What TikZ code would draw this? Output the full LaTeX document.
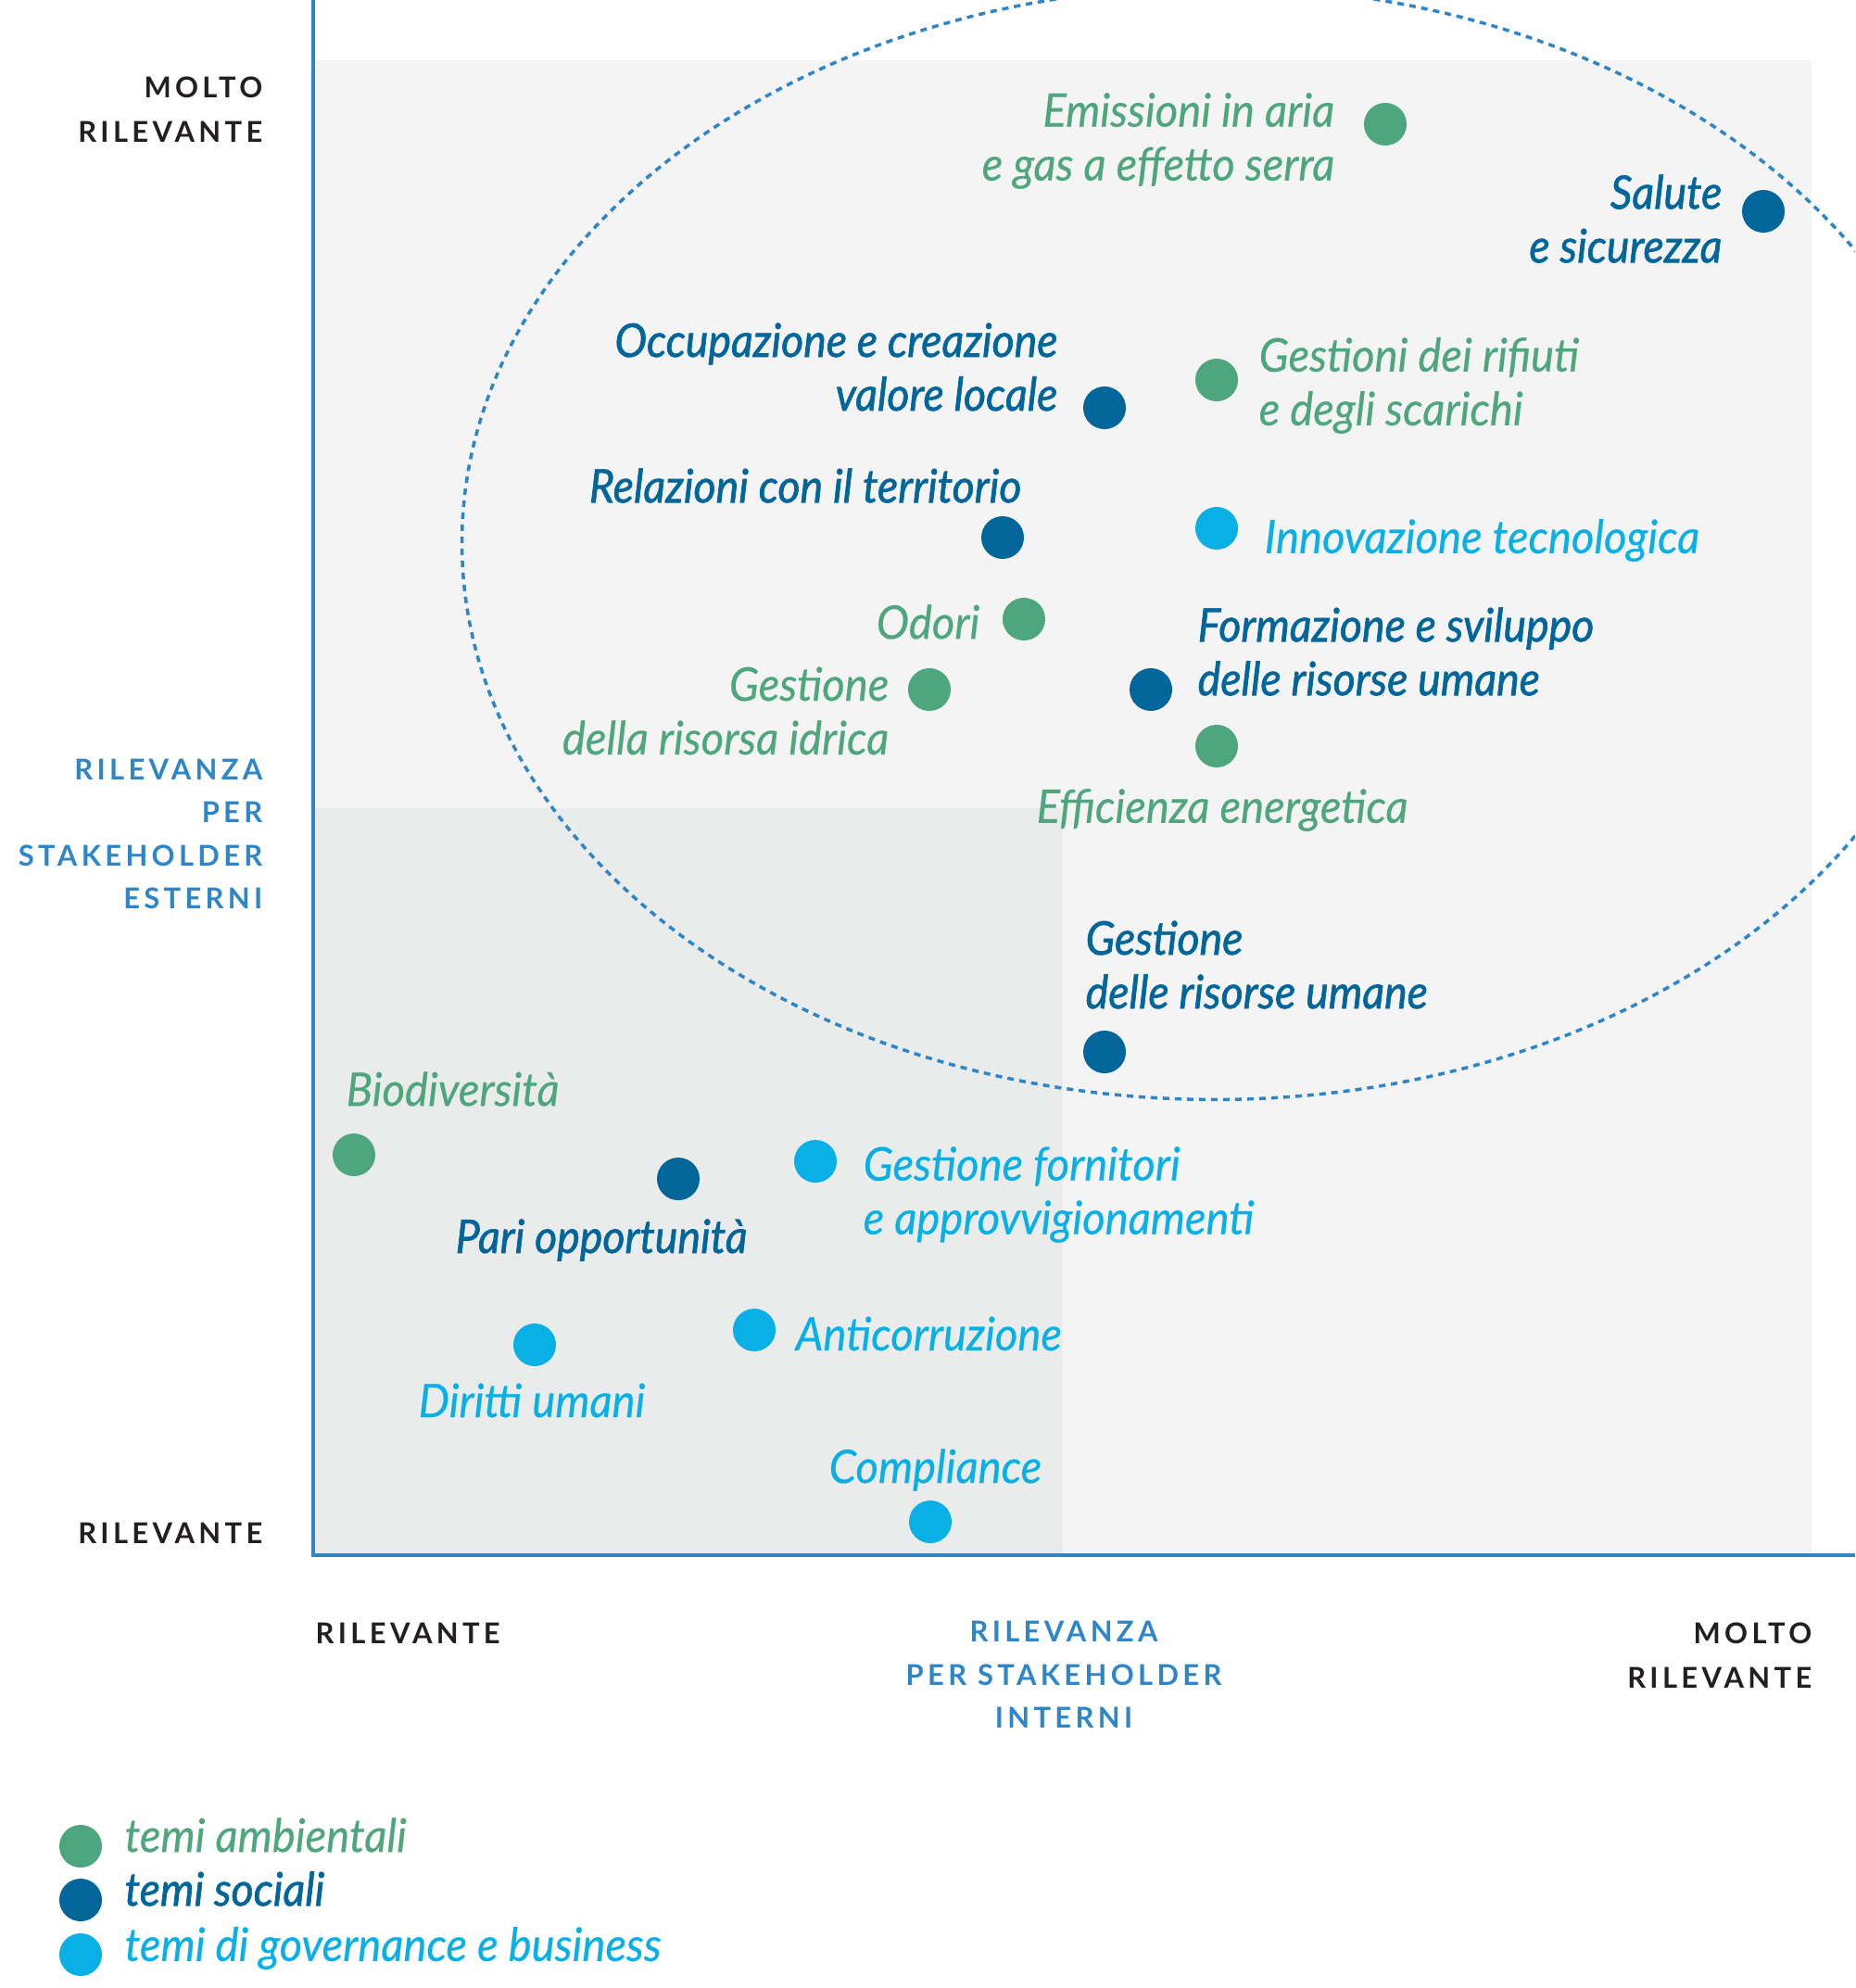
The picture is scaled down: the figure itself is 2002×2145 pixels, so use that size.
\documentclass[tikz,border=0pt]{standalone}
\usepackage{fontspec}
\setmainfont{Lato}
\newfontfamily\labelfont{Lato}[FakeStretch=0.945,FakeBold=0.4]
\newfontfamily\labelfontsb{Lato}[FakeStretch=0.93,FakeBold=1.3]
\newfontfamily\axisfont{Lato}[LetterSpace=14]

\definecolor{ambgreen}{HTML}{4EA67E}
\definecolor{socblue}{HTML}{02669A}
\definecolor{govblue}{HTML}{09B0E6}
\definecolor{axisblue}{HTML}{2E86C8}
\definecolor{axisdark}{HTML}{231F20}
\definecolor{bglight}{HTML}{F4F4F4}
\definecolor{bgdark}{HTML}{EAECEB}

\begin{document}
\begin{tikzpicture}[x=0.01cm, y=-0.01cm,
    dot/.style={circle, inner sep=0pt, minimum size=0.46cm},
    amb/.style={dot, fill=ambgreen},
    soc/.style={dot, fill=socblue},
    gov/.style={dot, fill=govblue},
    lbl/.style={inner sep=0pt, font={\labelfont\itshape\fontsize{14.2}{16.5}\selectfont}},
    lblamb/.style={lbl, text=ambgreen},
    lblsoc/.style={inner sep=0pt, text=socblue, font={\labelfontsb\itshape\fontsize{14.2}{16.5}\selectfont}},
    lblgov/.style={lbl, text=govblue},
    axislbl/.style={inner sep=0pt, font={\axisfont\bfseries\fontsize{8.8}{13.7}\selectfont}},
    axisname/.style={axislbl, text=axisblue, font={\axisfont\bfseries\fontsize{8.8}{13.2}\selectfont}}]
  \useasboundingbox (0,0) rectangle (2002,2145);

  % quadrants
  \fill[bglight] (338,65) rectangle (1955,1678);
  \fill[bgdark] (338,872) rectangle (1147,1678);

  \begin{scope}
    \clip (0,0) rectangle (2002,2145);
    \draw[axisblue, line width=1pt, dash pattern=on 2pt off 1.7pt] (1311,586) ellipse [x radius=8.12cm, y radius=6cm];
  \end{scope}

  \draw[axisblue, line width=1.15pt] (338,0) -- (338,1678) -- (2002,1678);

  % axis texts
  \node[axislbl, text=axisdark, align=right, anchor=east] (ymax) at (284,118) {MOLTO\\RILEVANTE};
  \node[axisname, align=right, anchor=east] (yname) at (284,900) {RILEVANZA\\PER\\STAKEHOLDER\\ESTERNI};
  \node[axislbl, text=axisdark, anchor=east] (ymin) at (284,1654) {RILEVANTE};
  \node[axislbl, text=axisdark, anchor=west] (xmin) at (340,1762) {RILEVANTE};
  \node[axisname, align=center] (xname) at (1148,1807) {RILEVANZA\\PER STAKEHOLDER\\INTERNI};
  \node[axislbl, text=axisdark, align=right, anchor=east] (xmax) at (1956,1786) {MOLTO\\RILEVANTE};

  % topics
  \foreach \n/\x/\y/\s in {emis/1495/134/amb, salute/1903/228/soc, occup/1192/440/soc,
      rifiuti/1313/410/amb, relaz/1082/580/soc, innov/1313/570/gov, odori/1105/668/amb,
      idrica/1003/744/amb, formaz/1242/744/soc, energia/1313/805/amb, risumane/1192/1135/soc,
      biodiv/382/1246/amb, pari/732/1272/soc, fornit/880/1253/gov, diritti/577/1451/gov,
      anticorr/814/1435/gov, compl/1004/1642/gov}
    \node[\s] (\n) at (\x,\y) {};

  \node[lblamb, align=right, anchor=east] (emistxt) at (1441,152) {Emissioni in aria\\e gas a effetto serra};
  \node[lblsoc, align=right, anchor=east] (salutetxt) at (1859,236) {Salute\\e sicurezza};
  \node[lblsoc, align=right, anchor=east] (occuptxt) at (1142,396) {Occupazione e creazione\\valore locale};
  \node[lblamb, align=left, anchor=west] (rifiutitxt) at (1358,416) {Gestioni dei rifiuti\\e degli scarichi};
  \node[lblsoc, anchor=east] (relaztxt) at (1103,524) {Relazioni con il territorio};
  \node[lblgov, anchor=west] (innovtxt) at (1364,583) {Innovazione tecnologica};
  \node[lblamb, anchor=east] (oditxt) at (1058,671) {Odori};
  \node[lblamb, align=right, anchor=east] (idricatxt) at (960,767) {Gestione\\della risorsa idrica};
  \node[lblsoc, align=left, anchor=west] (formaztxt) at (1292,703) {Formazione e sviluppo\\delle risorse umane};
  \node[lblamb, anchor=west] (energiatxt) at (1118,874) {Efficienza energetica};
  \node[lblsoc, align=left, anchor=west] (risumanetxt) at (1171,1041) {Gestione\\delle risorse umane};
  \node[lblamb, anchor=west] (biodivtxt) at (373,1175) {Biodiversità};
  \node[lblsoc, anchor=west] (paritxt) at (491,1338) {Pari opportunità};
  \node[lblgov, align=left, anchor=west] (fornittxt) at (931,1289) {Gestione fornitori\\e approvvigionamenti};
  \node[lblgov, anchor=west] (dirittitxt) at (451,1511) {Diritti umani};
  \node[lblgov, anchor=west] (anticorrtxt) at (858,1439) {Anticorruzione};
  \node[lblgov, anchor=west] (compltxt) at (894,1586) {Compliance};

  % legend
  \node[amb] (legamb) at (87,1992) {};
  \node[soc] (legsoc) at (87,2050) {};
  \node[gov] (leggov) at (87,2109) {};
  \node[lblamb, anchor=west] (legambtxt) at (134,1980) {temi ambientali};
  \node[lblsoc, anchor=west] (legsoctxt) at (134,2038) {temi sociali};
  \node[lblgov, anchor=west] (leggovtxt) at (134,2102) {temi di governance e business};
\end{tikzpicture}
\end{document}
